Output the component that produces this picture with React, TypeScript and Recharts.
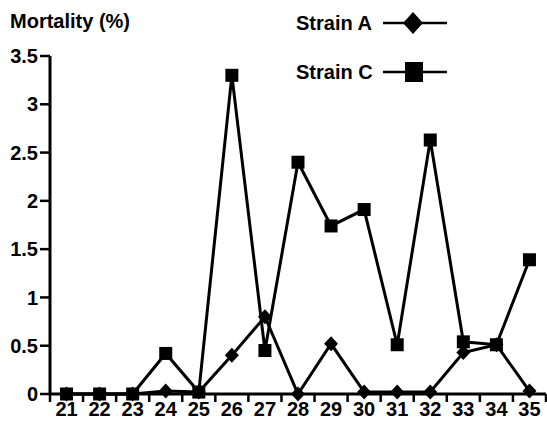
import React from 'react';
import { LineChart, Line, XAxis, YAxis, Legend } from 'recharts';

const days = [21, 22, 23, 24, 25, 26, 27, 28, 29, 30, 31, 32, 33, 34, 35];
const strainA = [0, 0, 0, 0.03, 0.02, 0.4, 0.8, 0, 0.52, 0.02, 0.02, 0.02, 0.43, 0.51, 0.03];
const strainC = [0, 0, 0, 0.42, 0.02, 3.3, 0.45, 2.4, 1.74, 1.91, 0.51, 2.63, 0.54, 0.51, 1.39];
const yTicks = [0, 0.5, 1, 1.5, 2, 2.5, 3, 3.5];
const seriesNames = ['Strain A', 'Strain C'];
const yTitle = 'Mortality (%)';

const data = days.map((d, i) => ({ day: d, a: strainA[i], c: strainC[i] }));
const xTicks = [...days.flatMap((d) => [d - 0.5, d]), days[days.length - 1] + 0.5];

const FONT = '"Liberation Sans", Arial, Helvetica, sans-serif';
const textStyle = { fontFamily: FONT, fontSize: 20, fontWeight: 700, fill: '#000' };

const XTick = (props: any) => {
  const { x, y, payload } = props;
  const v = payload.value;
  if (Number.isInteger(v)) {
    return (
      <text x={x} y={y + 8} dy="0.71em" textAnchor="middle" style={textStyle}>
        {v}
      </text>
    );
  }
  return <line x1={x} x2={x} y1={y} y2={y + 8} stroke="#000" strokeWidth={2.5} />;
};

const SquareDot = (props: any) => {
  const { cx, cy, index } = props;
  if (cx == null || cy == null) return <g key={`s${index}`} />;
  return <rect key={`s${index}`} x={cx - 6.5} y={cy - 6.5} width={13} height={13} fill="#000" />;
};

const DiamondDot = (props: any) => {
  const { cx, cy, index } = props;
  if (cx == null || cy == null) return <g key={`d${index}`} />;
  return (
    <polygon
      key={`d${index}`}
      points={`${cx},${cy - 7.5} ${cx + 7},${cy} ${cx},${cy + 7.5} ${cx - 7},${cy}`}
      fill="#000"
    />
  );
};

const LegendContent = () => {
  const rows = [23, 72];
  return (
    <svg width={170} height={95} style={{ display: 'block' }}>
      {seriesNames.map((name, i) => {
        const cy = rows[i];
        return (
          <g key={name}>
            <text x={6} y={cy} dy="0.36em" style={textStyle}>
              {name}
            </text>
            <line x1={93} x2={157} y1={cy} y2={cy} stroke="#000" strokeWidth={2.5} />
            {i === 0 ? (
              <polygon points={`123,${cy - 11} 133,${cy} 123,${cy + 11} 113,${cy}`} fill="#000" />
            ) : (
              <rect x={115} y={cy - 10} width={18} height={20} fill="#000" />
            )}
          </g>
        );
      })}
    </svg>
  );
};

export default function App() {
  return (
    <div style={{ position: 'absolute', left: 0, top: 0, width: 547, height: 425, background: '#fff' }}>
      <div
        style={{
          position: 'absolute',
          left: 10,
          top: 11,
          fontFamily: FONT,
          fontSize: 20,
          fontWeight: 700,
          lineHeight: '20px',
          color: '#000',
          whiteSpace: 'nowrap',
        }}
      >
        {yTitle}
      </div>
      <LineChart width={547} height={425} data={data} margin={{ top: 56, right: 1, bottom: 0, left: 0 }}>
        <XAxis
          dataKey="day"
          type="number"
          domain={[20.5, 35.5]}
          ticks={xTicks}
          interval={0}
          tickSize={0}
          tickMargin={0}
          tickLine={false}
          axisLine={{ stroke: '#000', strokeWidth: 3 }}
          tick={<XTick />}
          height={31}
          allowDecimals
        />
        <YAxis
          type="number"
          domain={[0, 3.5]}
          ticks={yTicks}
          interval={0}
          width={50}
          tickSize={10}
          tickMargin={2}
          tickLine={{ stroke: '#000', strokeWidth: 2.5 }}
          axisLine={{ stroke: '#000', strokeWidth: 3 }}
          tick={textStyle}
          tickFormatter={(v: number) => String(v)}
        />
        <Legend
          layout="vertical"
          align="center"
          verticalAlign="middle"
          wrapperStyle={{ position: 'absolute', left: 290, top: 0, width: 170, height: 95 }}
          content={<LegendContent />}
        />
        <Line
          name={seriesNames[0]}
          dataKey="a"
          stroke="#000"
          strokeWidth={3}
          dot={DiamondDot}
          activeDot={false}
          isAnimationActive={false}
        />
        <Line
          name={seriesNames[1]}
          dataKey="c"
          stroke="#000"
          strokeWidth={3}
          dot={SquareDot}
          activeDot={false}
          isAnimationActive={false}
        />
      </LineChart>
    </div>
  );
}
